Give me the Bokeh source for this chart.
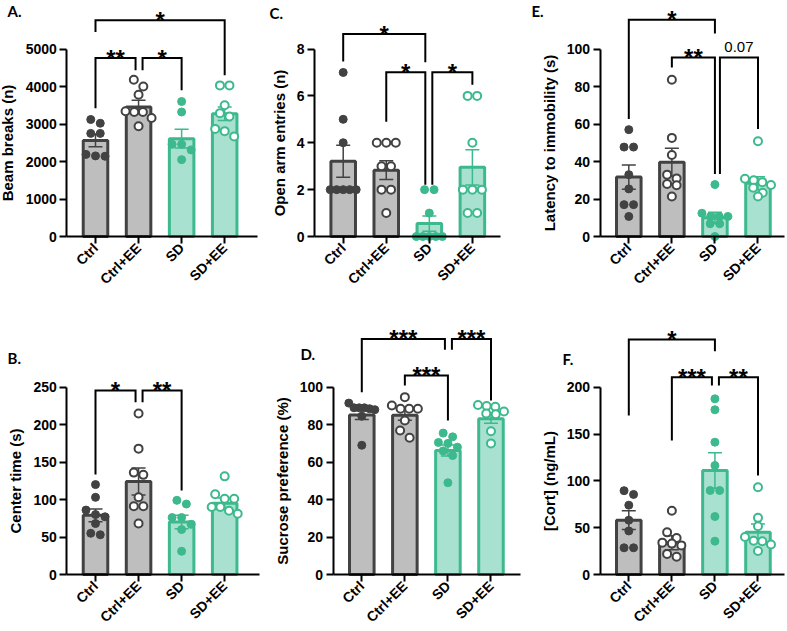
import math
from bokeh.plotting import figure
from bokeh.models import ColumnDataSource, FixedTicker, Label, Range1d
from bokeh.layouts import row, column
from bokeh.embed import file_html
from bokeh.resources import INLINE
from bokeh.core.properties import value

groups = ["Ctrl", "Ctrl+EE", "SD", "SD+EE"]

# ---- Panel A: Beam breaks ----
a_ctrl = [3120, 3020, 2750, 2750, 2190, 2150, 2140]
a_ctrl_ee = [4180, 4000, 3780, 3340, 3320, 3320, 3160, 2940]
a_sd = [3600, 3320, 2460, 2460, 2310, 2050]
a_sd_ee = [4030, 4030, 3500, 3290, 3200, 2870, 2810, 2670]
a_mean = [2563, 3452, 2607, 3274]
a_sem = [170, 180, 250, 180]
a_yticks = [0, 1000, 2000, 3000, 4000, 5000]
# (group i, group j, bracket level, left leg end, right leg end, label)
a_sig = [(0, 1, 4760, 3417, 4431, "**"), (1, 2, 4760, 4431, 3898, "*"), (0, 3, 5766, 5454, 4298, "*")]

# ---- Panel B: Center time ----
b_ctrl = [120, 103, 86, 80, 77, 68, 55, 53]
b_ctrl_ee = [215, 168, 136, 133, 103, 91, 91, 68]
b_sd = [99, 94, 76, 76, 67, 60, 31]
b_sd_ee = [131, 107, 101, 101, 90, 90, 85, 81]
b_mean = [79, 124, 70, 95]
b_sem = [8.5, 18, 9, 7]
b_yticks = [0, 50, 100, 150, 200, 250]
b_sig = [(0, 1, 245.6, 133.5, 230, "*"), (1, 2, 245.6, 230, 112, "**")]

# ---- Panel C: Open arm entries ----
c_ctrl = [7, 5, 4, 2, 2, 2, 2, 2]
c_ctrl_ee = [4, 4, 4, 3, 3, 2, 2, 1]
c_sd = [2, 2, 1, 0, 0, 0, 0, 0]
c_sd_ee = [6, 6, 4, 2, 2, 2, 1, 1]
c_mean = [3.21, 2.83, 0.55, 2.95]
c_sem = [0.68, 0.40, 0.33, 0.75]
c_yticks = [0, 2, 4, 6, 8]
c_sig = [(0, 2, 8.64, 7.47, 7.43, "*"), (1, 2, 7.01, 4.9, 2.21, "*"), (2, 3, 7.01, 2.21, 6.47, "*")]

# ---- Panel D: Sucrose preference ----
d_ctrl = [91.5, 89, 89, 89, 88.5, 88, 84.5, 69]
d_ctrl_ee = [94.7, 90.2, 88.5, 88.5, 88.5, 82.2, 76.9, 73]
d_sd = [75.5, 73.5, 70.5, 70, 68, 66, 63.5, 49]
d_sd_ee = [90.5, 90, 89.5, 87, 86, 85.5, 76.5, 70]
d_mean = [85.2, 85.0, 66.2, 83.2]
d_sem = [2.5, 2.7, 2.9, 2.5]
d_yticks = [0, 20, 40, 60, 80, 100]
d_sig = [(0, 2, 125.8, 97.3, 120, "***"), (1, 2, 106.2, 100.9, 82.2, "***"), (2, 3, 125.8, 120, 92.9, "***")]

# ---- Panel E: Latency to immobility ----
e_ctrl = [57, 47.7, 47.7, 33, 25.4, 17, 17, 10.7]
e_ctrl_ee = [83.6, 52.6, 43.5, 33, 31, 28, 27.3, 21.3]
e_sd = [27.7, 12.4, 10.7, 10.7, 10.7, 6.8, 6.8, 0]
e_sd_ee = [50.8, 30.8, 30, 29, 27.5, 26, 23.3, 21.3]
e_mean = [31.7, 39.6, 10.0, 28.4]
e_sem = [6.5, 7.5, 3.0, 3.5]
e_yticks = [0, 20, 40, 60, 80, 100]
e_sig = [(0, 2, 115.6, 62.7, 108.3, "*"), (1, 2, 95.5, 90.2, 33.4, "**"), (2, 3, 95.5, 33.4, 57.4, "0.07")]

# ---- Panel F: Corticosterone ----
f_ctrl = [89.5, 85.5, 74, 58, 46.5, 28.5, 28.5]
f_ctrl_ee = [68, 45, 39, 34, 33, 31, 22, 19]
f_sd = [187.6, 175.9, 141.3, 116.4, 89.7, 89.7, 61.9, 35.6]
f_sd_ee = [93.2, 60.5, 51.6, 40, 36, 35.5, 32, 25]
f_mean = [58, 34, 111, 45]
f_sem = [10, 7.5, 19, 9]
f_yticks = [0, 50, 100, 150, 200]
f_sig = [(0, 2, 251, 169.8, 238.5, "*"), (1, 2, 210.7, 143, 201.8, "***"), (2, 3, 210.7, 201.8, 105.7, "**")]

# ---- styling ----
GRAY_FILL, GRAY_LINE = "#bebebe", "#424242"
GREEN_FILL, GREEN_LINE = "#a9e1d1", "#3cb98d"
FILL = [GRAY_FILL, GRAY_FILL, GREEN_FILL, GREEN_FILL]
LINE = [GRAY_LINE, GRAY_LINE, GREEN_LINE, GREEN_LINE]
OPEN = [False, True, False, True]
FONT = "Liberation Sans"

XPX = 43.06          # px per category
LPAD = 28.7          # px from y axis to first category


def swarm(vals, ypx, d=9.5, span=26.0):
    idx = sorted(range(len(vals)), key=lambda i: -vals[i])
    rows = []
    for i in idx:
        if rows and (vals[rows[-1][0]] - vals[i]) * ypx < d * 0.8:
            rows[-1].append(i)
        else:
            rows.append([i])
    off = [0.0] * len(vals)
    for r in rows:
        n = len(r)
        step = d if n <= 1 else min(d, span / (n - 1))
        for k, i in enumerate(r):
            off[i] = (k - (n - 1) / 2) * step / XPX
    return off


def panel(letter, letter_px, ylabel, pts, means, sems, yticks, sigs, leg_off,
          W, H, cx0, y0px, span, rpad):
    ytop = yticks[-1]
    ypx = span / ytop
    xr = Range1d(-cx0 / XPX, (W - cx0) / XPX)
    yr = Range1d(-(H - y0px) / ypx, y0px / ypx)
    p = figure(width=W, height=H, x_range=xr, y_range=yr, min_border=0,
               min_border_left=0, min_border_right=0, min_border_top=0, min_border_bottom=0,
               toolbar_location=None, output_backend="svg", title=None)
    p.outline_line_color = None
    p.xgrid.grid_line_color = None
    p.ygrid.grid_line_color = None
    p.background_fill_color = "white"
    p.border_fill_color = "white"

    x_axis0 = -LPAD / XPX
    x_axis1 = 3 + rpad / XPX
    for ax in (p.xaxis[0], p.yaxis[0]):
        ax.axis_line_width = 2
        ax.axis_line_color = "black"
        ax.major_tick_line_width = 2
        ax.major_tick_line_color = "black"
        ax.major_tick_out = 7
        ax.major_tick_in = 0
        ax.minor_tick_line_color = None
        ax.major_label_text_font = FONT
        ax.major_label_text_font_style = "bold"
        ax.major_label_text_font_size = "14px"
        ax.major_label_text_color = "black"
        ax.axis_label_text_font = FONT
        ax.axis_label_text_font_style = "bold"
        ax.axis_label_text_font_size = "15px"
        ax.axis_label_text_color = "black"
    p.xaxis.fixed_location = 0
    p.xaxis.bounds = (x_axis0, x_axis1)
    p.xaxis.ticker = FixedTicker(ticks=[0, 1, 2, 3])
    p.xaxis.major_label_overrides = {i: g for i, g in enumerate(groups)}
    p.xaxis.major_label_orientation = math.pi / 4
    p.xaxis.major_label_standoff = 2
    p.yaxis.fixed_location = x_axis0
    p.yaxis.ticker = FixedTicker(ticks=yticks)
    p.yaxis.bounds = (0, ytop)
    p.yaxis.axis_label = ylabel
    p.yaxis.axis_label_standoff = 6
    p.yaxis.major_label_standoff = 3

    xs = [0, 1, 2, 3]
    bars = ColumnDataSource(dict(x=xs, top=means, fill=FILL, line=LINE))
    p.vbar(x="x", top="top", bottom=0, width=0.57, source=bars, fill_color="fill",
           line_color="line", line_width=3)

    lo = [m - s for m, s in zip(means, sems)]
    hi = [m + s for m, s in zip(means, sems)]
    cw = 7.0 / XPX
    err = ColumnDataSource(dict(x=xs, lo=lo, hi=hi, xl=[x - cw for x in xs],
                                xr=[x + cw for x in xs], line=LINE))
    p.segment(x0="x", y0="lo", x1="x", y1="hi", source=err, line_color="line", line_width=1.5)
    p.segment(x0="xl", y0="hi", x1="xr", y1="hi", source=err, line_color="line", line_width=1.5)
    p.segment(x0="xl", y0="lo", x1="xr", y1="lo", source=err, line_color="line", line_width=1.5)

    for gi, vals in enumerate(pts):
        off = swarm(vals, ypx)
        src = ColumnDataSource(dict(x=[gi + o for o in off], y=vals))
        if OPEN[gi]:
            p.scatter(x="x", y="y", source=src, size=8, fill_color="white",
                      line_color=LINE[gi], line_width=2)
        else:
            p.scatter(x="x", y="y", source=src, size=8, fill_color=LINE[gi],
                      line_color=LINE[gi], line_width=1)

    bxs, bys = [], []
    star = dict(x=[], y=[], t=[])
    plain = dict(x=[], y=[], t=[])
    for (i, j, lvl, le, re_, lab), (ol, orr) in zip(sigs, leg_off):
        xl = i + ol / XPX
        xr_ = j + orr / XPX
        bxs.append([xl, xl, xr_, xr_])
        bys.append([le, lvl, lvl, re_])
        if set(lab) == {"*"}:
            star["x"].append((xl + xr_) / 2)
            star["y"].append(lvl)
            star["t"].append(lab)
        else:
            plain["x"].append((xl + xr_) / 2)
            plain["y"].append(lvl + 10 / ypx)
            plain["t"].append(lab)
    p.multi_line(xs=bxs, ys=bys, line_color="black", line_width=2, line_join="miter")
    p.text(x="x", y="y", text="t", source=ColumnDataSource(star), text_font=value(FONT),
           text_font_style="bold", text_font_size="24px", text_align="center",
           text_baseline="alphabetic", text_color="black")
    if plain["t"]:
        p.text(x="x", y="y", text="t", source=ColumnDataSource(plain), text_font=value(FONT),
               text_font_style="normal", text_font_size="15px", text_align="center",
               text_baseline="alphabetic", text_color="black")

    lx, ly = letter_px
    p.add_layout(Label(x=lx / XPX, y=(ly + 4) / ypx, text=letter,
                       text_font="Lato", text_font_style="bold", text_font_size="15px",
                       text_baseline="top", text_align="left", text_color="black"))
    return p


H1, Y01, SPAN1 = 318, 236, 187.5
H2, Y02, SPAN2 = 311, 256, 187.3

pA = panel("A.", (-88, 231), "Beam breaks (n)", [a_ctrl, a_ctrl_ee, a_sd, a_sd_ee], a_mean, a_sem,
           a_yticks, a_sig, [(0, -3), (4, 0), (0, 0)], 262, H1, 95, Y01, SPAN1, 33)
pC = panel("C.", (-73.7, 229), "Open arm entries (n)", [c_ctrl, c_ctrl_ee, c_sd, c_sd_ee], c_mean, c_sem,
           c_yticks, c_sig, [(0, -4), (0, -4), (3, 0)], 262, H1, 80.7, Y01, SPAN1, 27.7)
pE = panel("E.", (-97.3, 231), "Latency to immobility (s)", [e_ctrl, e_ctrl_ee, e_sd, e_sd_ee], e_mean, e_sem,
           e_yticks, e_sig, [(0, 0), (0, 0), (5, 0)], 261, H1, 104.3, Y01, SPAN1, 26.7)
pB = panel("B.", (-88, 222), "Center time (s)", [b_ctrl, b_ctrl_ee, b_sd, b_sd_ee], b_mean, b_sem,
           b_yticks, b_sig, [(0, -3), (4, 0)], 262, H2, 95, Y02, SPAN2, 35)
pD = panel("D.", (-61.3, 226), "Sucrose preference (%)", [d_ctrl, d_ctrl_ee, d_sd, d_sd_ee], d_mean, d_sem,
           d_yticks, d_sig, [(0, -3), (0, 0), (4, 0)], 262, H2, 99.3, Y02, SPAN2, 29.7)
pF = panel("F.", (-66.3, 221), "[Cort] (ng/mL)", [f_ctrl, f_ctrl_ee, f_sd, f_sd_ee], f_mean, f_sem,
           f_yticks, f_sig, [(0, 0), (0, -3), (4, 0)], 261, H2, 104.3, Y02, SPAN2, 26.7)

layout = column(row(pA, pC, pE), row(pB, pD, pF))
open("out.html", "w").write(file_html(layout, INLINE))
